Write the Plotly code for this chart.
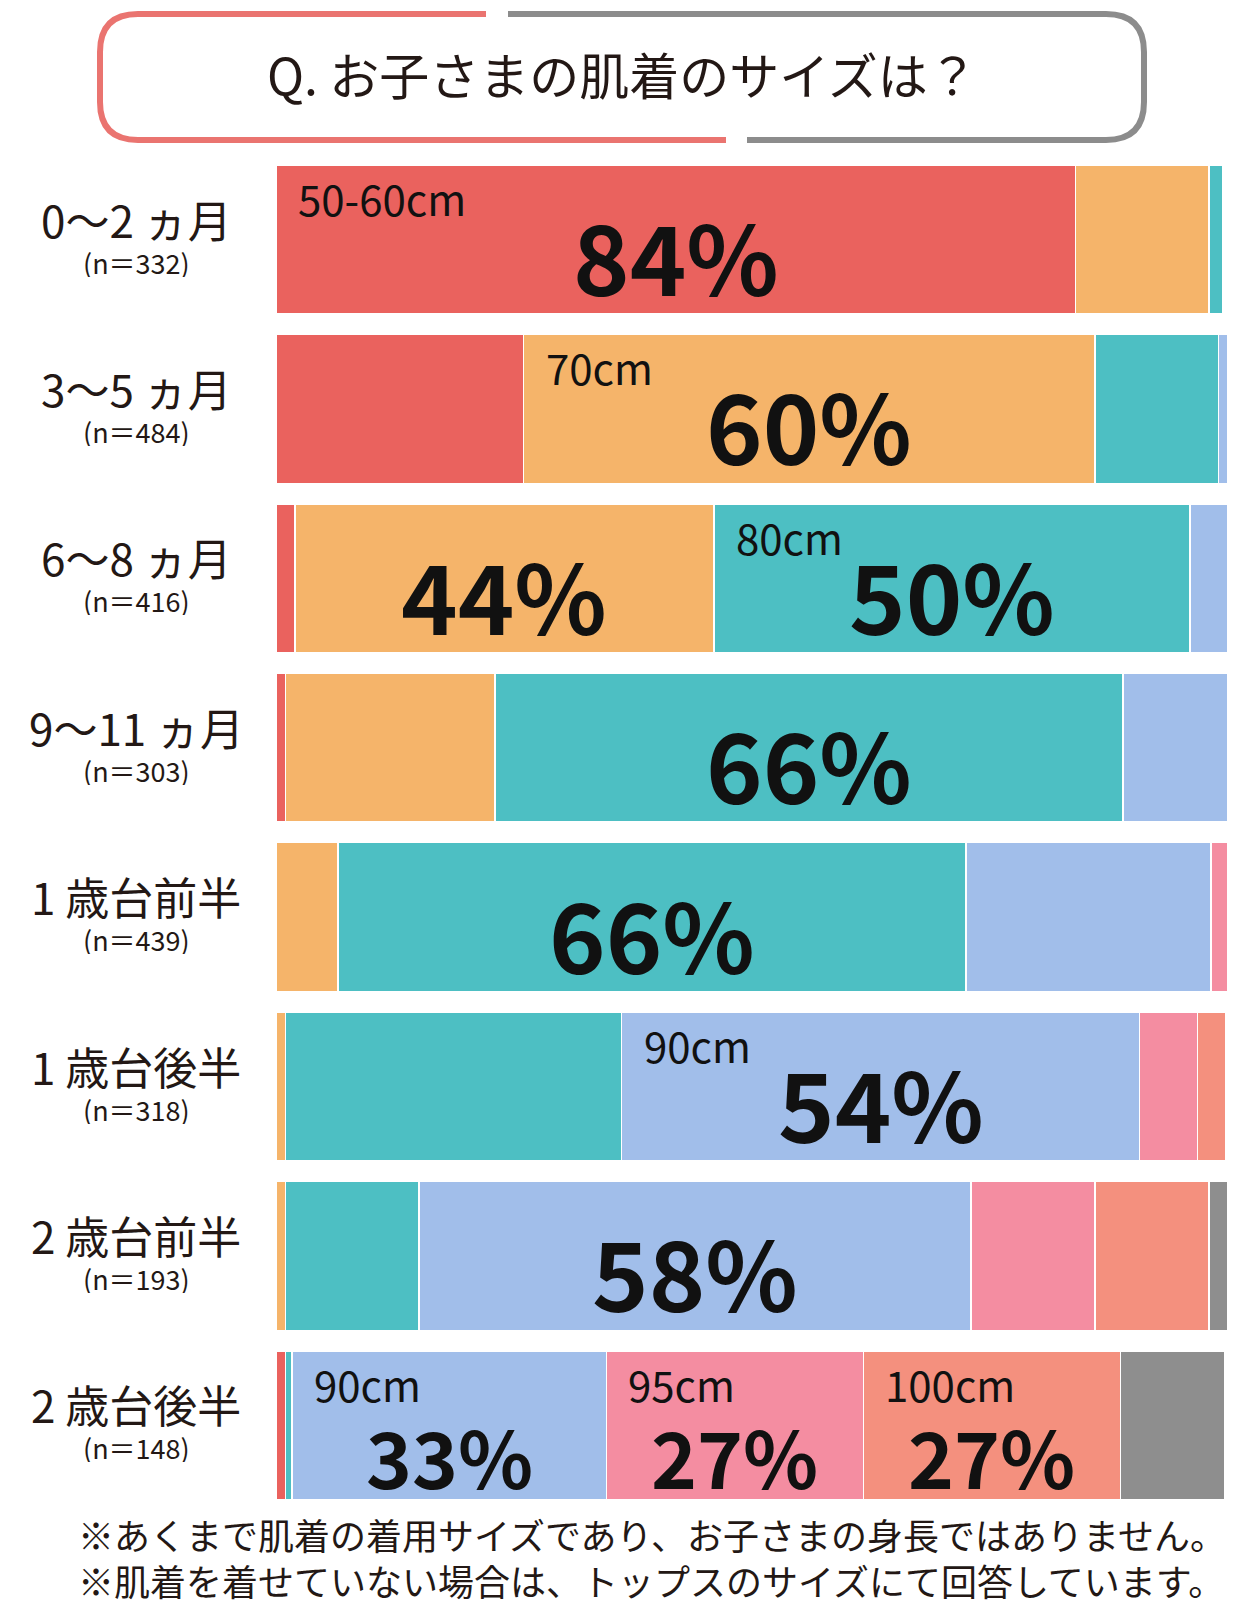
import plotly.graph_objects as go

# ---------------- data ----------------
categories = ["0～2 ヵ月", "3～5 ヵ月", "6～8 ヵ月", "9～11 ヵ月",
              "1 歳台前半", "1 歳台後半", "2 歳台前半", "2 歳台後半"]
n_values = [332, 484, 416, 303, 439, 318, 193, 148]

series_names = ["50-60cm", "70cm", "80cm", "90cm", "95cm", "100cm", "その他"]
s_50_60 = [84, 26, 2, 1, 0, 0, 0, 1]
s_70 = [14, 60, 44, 22, 6.5, 1, 1, 0]
s_80 = [1.5, 13, 50, 66, 66, 35.3, 14, 0.7]
s_90 = [0, 1, 4, 11, 25.7, 54.4, 58, 33]
s_95 = [0, 0, 0, 0, 1.8, 6.1, 13, 27]
s_100 = [0, 0, 0, 0, 0, 3.0, 12, 27]
s_other = [0, 0, 0, 0, 0, 0, 2, 11]
series_values = [s_50_60, s_70, s_80, s_90, s_95, s_100, s_other]

# labelled segments: (row index, series index, show size label)
highlights = [(0, 0, True), (1, 1, True), (2, 1, False), (2, 2, True),
              (3, 2, False), (4, 2, False), (5, 3, True), (6, 3, False),
              (7, 3, True), (7, 4, True), (7, 5, True)]

title_text = "Q. お子さまの肌着のサイズは？"
footnotes = ["※あくまで肌着の着用サイズであり、お子さまの身長ではありません。",
             "※肌着を着せていない場合は、トップスのサイズにて回答しています。"]

# ---------------- style ----------------
colors = ["#EA625E", "#F5B46A", "#4DBFC3", "#A1BEEA", "#F48DA1", "#F4907E", "#8E8E8E"]
FONT = "Noto Sans CJK JP"
TXT = "#231815"
W, H = 1242, 1606
PL, PR, PT, PB = 268, 1220, 145, 1502


def px(x):
    return (x - PL) / (PR - PL)


def py(y):
    return (PB - y) / (PB - PT)


fig = go.Figure()
for name, vals, col in zip(series_names, series_values, colors):
    fig.add_trace(go.Bar(
        y=categories, x=vals, name=name, orientation="h",
        marker=dict(color=col, line=dict(color="white", width=1.6)),
        hoverinfo="x+name",
    ))

annotations = []
# category labels
for cat, n in zip(categories, n_values):
    annotations.append(dict(xref="paper", yref="y", x=px(128), y=cat, yshift=21,
                            text=cat, showarrow=False, xanchor="center", yanchor="middle",
                            height=46, valign="middle",
                            font=dict(family=FONT, size=44, color=TXT)))
    annotations.append(dict(xref="paper", yref="y", x=px(128), y=cat, yshift=-22,
                            text=f"(n＝{n})", showarrow=False, xanchor="center", yanchor="middle",
                            height=30, valign="middle",
                            font=dict(family=FONT, size=27, color=TXT)))

# in-bar labels (rows carrying several labels use a smaller figure)
labels_per_row = {}
for r, s, show_size in highlights:
    labels_per_row[r] = labels_per_row.get(r, 0) + 1
for r, s, show_size in highlights:
    start = sum(series_values[k][r] for k in range(s))
    v = series_values[s][r]
    crowded = labels_per_row[r] > 2
    annotations.append(dict(xref="x", yref="y", x=start + v / 2, y=categories[r],
                            yshift=-30 if crowded else -15,
                            text=f"<b>{round(v)}%</b>", showarrow=False,
                            xanchor="center", yanchor="middle",
                            font=dict(family=FONT, size=78 if crowded else 96, color="#111111")))
    if show_size:
        annotations.append(dict(xref="x", yref="y", x=start, y=categories[r], xshift=20, yshift=42,
                                text=series_names[s], showarrow=False,
                                xanchor="left", yanchor="middle",
                                font=dict(family=FONT, size=42, color="#111111")))

# title
annotations.append(dict(xref="paper", yref="paper", x=px(614), y=py(65), text=title_text,
                        showarrow=False, xanchor="center", yanchor="middle",
                        font=dict(family=FONT, size=50, color=TXT)))
# footnotes
for i, t in enumerate(footnotes):
    annotations.append(dict(xref="paper", yref="paper", x=px(68), y=py(1526 + 46 * i), text=t,
                            showarrow=False, xanchor="left", yanchor="middle",
                            font=dict(family=FONT, size=36, color=TXT)))

# title frame (two-colour rounded box)
L, R, T, B, rr = 92, 1136, 6, 132, 38


def P(x, y):
    return f"{px(x):.5f},{py(y):.5f}"


red_path = (f"M {P(478, T)} L {P(L + rr, T)} Q {P(L, T)} {P(L, T + rr)} "
            f"L {P(L, B - rr)} Q {P(L, B)} {P(L + rr, B)} L {P(718, B)}")
gray_path = (f"M {P(500, T)} L {P(R - rr, T)} Q {P(R, T)} {P(R, T + rr)} "
             f"L {P(R, B - rr)} Q {P(R, B)} {P(R - rr, B)} L {P(739, B)}")
shapes = [
    dict(type="path", xref="paper", yref="paper", path=red_path,
         line=dict(color="#EA7470", width=6)),
    dict(type="path", xref="paper", yref="paper", path=gray_path,
         line=dict(color="#8C8C8C", width=6)),
]

fig.update_layout(
    barmode="stack", bargap=0.12,
    width=W, height=H,
    margin=dict(l=PL, r=W - PR, t=PT, b=H - PB, pad=0),
    paper_bgcolor="white", plot_bgcolor="white",
    showlegend=False,
    xaxis=dict(range=[0, 100], visible=False, fixedrange=True),
    yaxis=dict(autorange="reversed", showticklabels=False, showgrid=False,
               zeroline=False, showline=False, ticks="", fixedrange=True),
    annotations=annotations, shapes=shapes,
    font=dict(family=FONT, color=TXT),
)

fig.write_html("out.html", config={"displayModeBar": False})
